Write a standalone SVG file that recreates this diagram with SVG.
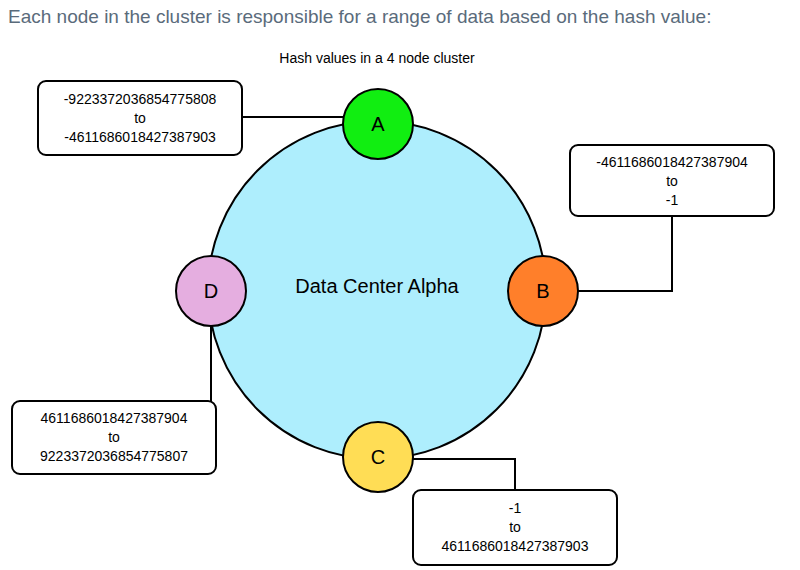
<svg xmlns="http://www.w3.org/2000/svg" width="800" height="570" viewBox="0 0 800 570">
<style>
text{font-family:"Liberation Sans",Arial,sans-serif;fill:#000}
.box{fill:#fff;stroke:#000;stroke-width:2}
.node{stroke:#000;stroke-width:2}
.lbl{font-size:14px;text-anchor:middle}
.nl{font-size:20px;text-anchor:middle}
.con{fill:none;stroke:#000;stroke-width:2}
</style>
<rect width="800" height="570" fill="#fff"/>
<text x="8" y="23" style="font-size:19px;fill:#5a6b7b">Each node in the cluster is responsible for a range of data based on the hash value:</text>
<text x="377" y="63" style="font-size:14px" text-anchor="middle">Hash values in a 4 node cluster</text>
<g id="ring"><circle cx="377" cy="290" r="169" fill="#aeeefd" stroke="#000" stroke-width="2"/>
<text x="377" y="293" style="font-size:20px" text-anchor="middle">Data Center Alpha</text></g>
<g id="connectors">
<polyline class="con" points="242,117 345,117"/>
<polyline class="con" points="578,291 672,291 672,216"/>
<polyline class="con" points="412,459 515,459 515,490"/>
<polyline class="con" points="211,326 211,401"/>
</g>
<g id="A"><circle class="node" cx="378" cy="124" r="35" fill="#11ee11"/><text class="nl" x="378" y="131">A</text></g>
<g id="B"><circle class="node" cx="543" cy="291" r="35" fill="#ff7f2a"/><text class="nl" x="543" y="298">B</text></g>
<g id="C"><circle class="node" cx="378" cy="457" r="35" fill="#ffdd55"/><text class="nl" x="378" y="464">C</text></g>
<g id="D"><circle class="node" cx="211" cy="291" r="35" fill="#e5aee0"/><text class="nl" x="211" y="298">D</text></g>
<g id="boxA"><rect class="box" x="38" y="81" width="204" height="74" rx="8"/>
<text class="lbl" x="140" y="104">-9223372036854775808</text><text class="lbl" x="140" y="123">to</text><text class="lbl" x="140" y="142">-4611686018427387903</text></g>
<g id="boxB"><rect class="box" x="570" y="145" width="204" height="71" rx="8"/>
<text class="lbl" x="672" y="167">-4611686018427387904</text><text class="lbl" x="672" y="186">to</text><text class="lbl" x="672" y="205">-1</text></g>
<g id="boxD"><rect class="box" x="12" y="401" width="204" height="73" rx="8"/>
<text class="lbl" x="114" y="423">4611686018427387904</text><text class="lbl" x="114" y="442">to</text><text class="lbl" x="114" y="461">9223372036854775807</text></g>
<g id="boxC"><rect class="box" x="413" y="490" width="204" height="75" rx="8"/>
<text class="lbl" x="515" y="513">-1</text><text class="lbl" x="515" y="532">to</text><text class="lbl" x="515" y="551">4611686018427387903</text></g>
</svg>
